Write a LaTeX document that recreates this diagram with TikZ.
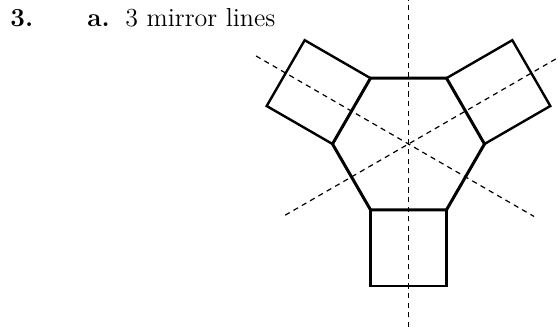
\documentclass[tikz,border=0pt]{standalone}
\usetikzlibrary{calc}
\tikzstyle{lbl}=[anchor=base west,inner sep=0pt,font=\fontsize{13}{15}\selectfont]
\tikzstyle{hexline}=[line width=1.5pt,line join=miter]
\tikzstyle{sqline}=[line width=1.2pt,line join=miter]
\tikzstyle{mirror}=[line width=0.6pt,dash pattern=on 2.6pt off 2.2pt]

\begin{document}
\begin{tikzpicture}[x=0.5pt,y=0.5pt]
\useasboundingbox (0,0) rectangle (558,327);
\node[lbl] (num) at (10,300) {\bfseries 3.};
\node[lbl] (part) at (87,300) {\bfseries a.};
\node[lbl] (txt) at (125,300) {3 mirror lines};
\coordinate (c) at (408.5,183);
\foreach \k in {0,...,5}
  \coordinate (h\k) at ($(c)+(60*\k:76)$);
% squares on three edges
\draw[sqline] (h2) -- ($(h2)+(150:76)$) -- ($(h3)+(150:76)$) -- (h3);
\draw[sqline] (h0) -- ($(h0)+(30:76)$) -- ($(h1)+(30:76)$) -- (h1);
\draw[sqline] (h4) -- ($(h4)+(270:76)$) -- ($(h5)+(270:76)$) -- (h5);
\draw[hexline] (h0) -- (h1) -- (h2) -- (h3) -- (h4) -- (h5) -- cycle;
% mirror lines
\draw[mirror] (408.5,0) -- (408.5,327);
\draw[mirror] ($(c)+(150:176)$) -- ($(c)+(-30:145)$);
\draw[mirror] ($(c)+(30:170)$) -- ($(c)+(210:145)$);
\end{tikzpicture}
\end{document}
